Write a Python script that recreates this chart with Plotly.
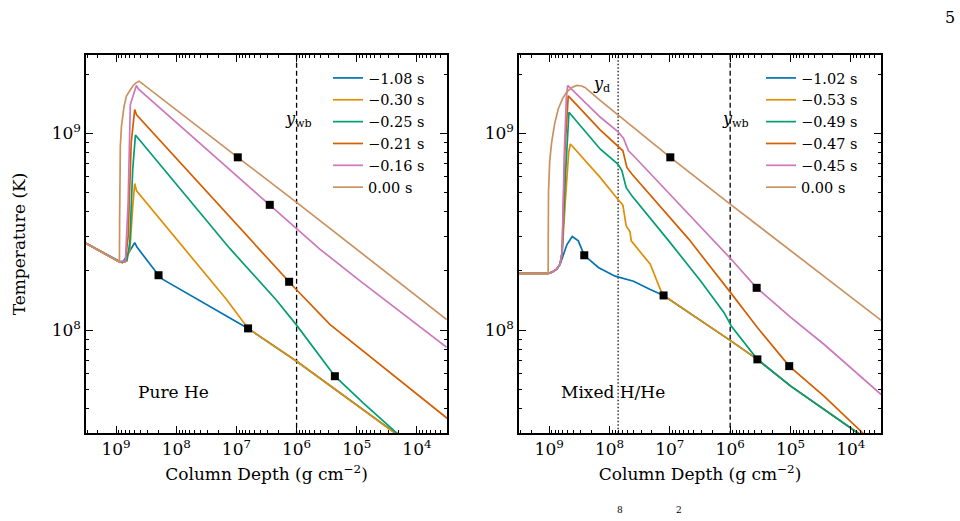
import plotly.graph_objects as go

# ---------------- data: left panel (Pure He) ----------------
L_labels = ["\u22121.08 s", "\u22120.30 s", "\u22120.25 s", "\u22120.21 s", "\u22120.16 s", "0.00 s"]

L_blue_x = [3.16e9, 8.8e8, 7.9e8, 7.0e8, 5.6e8, 4.9e8, 4.5e8, 1.97e8, 1.67e8, 2.77e7, 6.4e6, 1.0e6, 2.33e4, 1.58e4]
L_blue_y = [2.76e8, 2.22e8, 2.20e8, 2.32e8, 2.61e8, 2.78e8, 2.64e8, 1.90e8, 1.81e8, 1.32e8, 1.02e8, 6.95e7, 3.0e7, 2.76e7]

L_orange_x = [3.16e9, 8.8e8, 7.1e8, 5.9e8, 5.3e8, 4.9e8, 4.57e8, 2.77e7, 1.46e7, 6.4e6, 1.0e6, 2.33e4, 1.58e4]
L_orange_y = [2.76e8, 2.22e8, 2.22e8, 2.55e8, 4.2e8, 5.56e8, 5.1e8, 1.81e8, 1.43e8, 1.02e8, 6.95e7, 3.0e7, 2.76e7]

L_green_x = [3.16e9, 8.8e8, 6.6e8, 5.9e8, 5.3e8, 4.77e8, 1.29e7, 2.21e6, 1.0e6, 2.31e5, 7.83e4, 2.33e4, 1.5e4]
L_green_y = [2.76e8, 2.22e8, 2.25e8, 2.8e8, 6.5e8, 9.8e8, 2.6e8, 1.43e8, 1.06e8, 5.83e7, 4.27e7, 3.06e7, 2.75e7]

L_red_x = [3.16e9, 8.8e8, 7.0e8, 6.3e8, 5.6e8, 4.9e8, 4.57e8, 1.33e6, 1.14e6, 2.8e5, 7.83e4, 2.18e4, 3.2e3, 3.0e3]
L_red_y = [2.76e8, 2.22e8, 2.23e8, 3.0e8, 9.0e8, 1.32e9, 1.24e9, 1.76e8, 1.67e8, 1.07e8, 7.82e7, 5.73e7, 3.58e7, 3.55e7]

L_pink_x = [3.16e9, 8.8e8, 7.0e8, 6.3e8, 5.8e8, 4.6e8, 4.27e8, 2.79e6, 1.0e6, 4.11e5, 9.5e4, 3.2e3]
L_pink_y = [2.76e8, 2.22e8, 2.25e8, 4.5e8, 1.4e9, 1.75e9, 1.68e9, 4.33e8, 3.26e8, 2.58e8, 1.81e8, 8.18e7]

L_brown_x = [3.16e9, 8.8e8, 8.74e8, 8.68e8, 8.5e8, 8.13e8, 7.4e8, 6.71e8, 5.9e8, 5.21e8, 4.6e8, 4.15e8, 9.49e6, 1.0e6, 3.2e3]
L_brown_y = [2.76e8, 2.22e8, 3.5e8, 6.0e8, 8.6e8, 1.09e9, 1.36e9, 1.55e9, 1.66e9, 1.75e9, 1.81e9, 1.84e9, 7.55e8, 4.46e8, 1.13e8]

L_sq_x = [1.97e8, 6.4e6, 2.31e5, 1.33e6, 2.79e6, 9.49e6]
L_sq_y = [1.90e8, 1.02e8, 5.83e7, 1.76e8, 4.33e8, 7.55e8]

# ---------------- data: right panel (Mixed H/He) ----------------
R_labels = ["\u22121.02 s", "\u22120.53 s", "\u22120.49 s", "\u22120.47 s", "\u22120.45 s", "0.00 s"]

R_blue_x = [3.16e9, 1.04e9, 9.0e8, 7.5e8, 6.6e8, 5.85e8, 5.07e8, 4.14e8, 3.29e8, 2.62e8, 1.53e8, 8.07e7, 4.0e7, 2.11e7, 1.27e7, 9.6e5, 3.54e5, 9.9e4, 7.7e3, 6.0e3]
R_blue_y = [1.94e8, 1.94e8, 1.97e8, 2.04e8, 2.16e8, 2.40e8, 2.72e8, 2.99e8, 2.84e8, 2.40e8, 2.08e8, 1.88e8, 1.77e8, 1.61e8, 1.50e8, 8.79e7, 7.10e7, 5.19e7, 3.0e7, 2.85e7]

R_orange_x = [3.16e9, 1.04e9, 9.0e8, 7.5e8, 6.6e8, 6.1e8, 5.4e8, 4.75e8, 4.45e8, 1.43e8, 7.28e7, 6.0e7, 5.3e7, 4.57e7, 4.36e7, 2.11e7, 1.44e7, 1.35e7, 1.27e7, 9.6e5, 3.54e5, 9.9e4, 7.7e3, 6.0e3]
R_orange_y = [1.94e8, 1.94e8, 1.97e8, 2.04e8, 2.16e8, 2.45e8, 4.5e8, 8.0e8, 8.83e8, 5.97e8, 4.62e8, 4.31e8, 3.39e8, 3.16e8, 2.84e8, 2.16e8, 1.61e8, 1.55e8, 1.50e8, 8.79e7, 7.10e7, 5.19e7, 3.0e7, 2.85e7]

R_green_x = [3.16e9, 1.04e9, 9.0e8, 7.5e8, 6.6e8, 6.1e8, 5.4e8, 4.7e8, 1.43e8, 7.28e7, 6.24e7, 5.3e7, 4.26e7, 1.05e7, 3.11e6, 1.27e6, 1.09e6, 9.6e5, 3.54e5, 9.9e4, 7.7e3, 6.0e3]
R_green_y = [1.94e8, 1.94e8, 1.97e8, 2.04e8, 2.16e8, 2.45e8, 6.0e8, 1.28e9, 8.32e8, 6.98e8, 6.46e8, 5.31e8, 4.81e8, 2.85e8, 1.78e8, 1.23e8, 1.13e8, 1.05e8, 7.10e7, 5.19e7, 3.0e7, 2.85e7]

R_red_x = [3.16e9, 1.04e9, 9.0e8, 7.5e8, 6.6e8, 6.1e8, 5.5e8, 4.83e8, 1.43e8, 7.28e7, 6.0e7, 5.15e7, 4.26e7, 4.86e6, 1.12e6, 9.84e5, 3.54e5, 1.05e5, 2.76e4, 6.34e3, 5.0e3]
R_red_y = [1.94e8, 1.94e8, 1.97e8, 2.04e8, 2.16e8, 2.5e8, 8.0e8, 1.55e9, 1.04e9, 8.65e8, 8.15e8, 6.71e8, 6.21e8, 2.90e8, 1.61e8, 1.55e8, 1.03e8, 6.56e7, 4.61e7, 3.0e7, 2.75e7]

R_pink_x = [3.16e9, 1.04e9, 9.0e8, 7.5e8, 6.6e8, 6.1e8, 5.6e8, 5.2e8, 4.94e8, 1.43e8, 7.28e7, 5.87e7, 4.85e7, 4.0e7, 9.6e5, 3.64e5, 9.9e4, 2.76e4, 3.14e3]
R_pink_y = [1.94e8, 1.94e8, 1.97e8, 2.04e8, 2.16e8, 2.5e8, 8.0e8, 1.5e9, 1.75e9, 1.21e9, 1.02e9, 9.44e8, 8.15e8, 7.69e8, 2.29e8, 1.64e8, 1.16e8, 8.45e7, 4.7e7]

R_brown_x = [3.16e9, 1.04e9, 1.035e9, 1.025e9, 9.8e8, 9.1e8, 8.1e8, 7.08e8, 6.0e8, 5.13e8, 4.2e8, 3.5e8, 2.9e8, 2.55e8, 1.43e8, 9.82e6, 1.0e6, 3.14e3]
R_brown_y = [1.94e8, 1.94e8, 3.0e8, 5.0e8, 7.2e8, 9.0e8, 1.12e9, 1.33e9, 1.50e9, 1.62e9, 1.71e9, 1.75e9, 1.74e9, 1.71e9, 1.47e9, 7.55e8, 4.37e8, 1.12e8]

R_sq_x = [2.62e8, 1.27e7, 3.54e5, 1.05e5, 3.64e5, 9.82e6]
R_sq_y = [2.40e8, 1.50e8, 7.10e7, 6.56e7, 1.64e8, 7.55e8]

y_wb = 1.0e6
y_d = 7.2e7

x_ticks = [1e9, 1e8, 1e7, 1e6, 1e5, 1e4]
x_ticktext = ["10<sup>9</sup>", "10<sup>8</sup>", "10<sup>7</sup>", "10<sup>6</sup>", "10<sup>5</sup>", "10<sup>4</sup>"]
y_ticks = [1e8, 1e9]
y_ticktext = ["10<sup>8</sup>", "10<sup>9</sup>"]

colors = ["#0173B2", "#DE8F05", "#029E73", "#D55E00", "#CC78BC", "#CA9161"]
FONT = "DejaVu Serif"

x_minor = [m * 10 ** e for e in range(3, 10) for m in range(2, 10) if 3e3 <= m * 10 ** e <= 3.2e9]
y_minor = [m * 10 ** e for e in range(7, 10) for m in range(2, 10) if 3e7 <= m * 10 ** e <= 2.5e9]

fig = go.Figure()

L_series = [(L_blue_x, L_blue_y), (L_orange_x, L_orange_y), (L_green_x, L_green_y),
            (L_red_x, L_red_y), (L_pink_x, L_pink_y), (L_brown_x, L_brown_y)]
R_series = [(R_blue_x, R_blue_y), (R_orange_x, R_orange_y), (R_green_x, R_green_y),
            (R_red_x, R_red_y), (R_pink_x, R_pink_y), (R_brown_x, R_brown_y)]

# vertical reference lines (drawn first, under curves)
fig.add_trace(go.Scatter(x=[y_wb, y_wb], y=[2e7, 4e9], mode="lines", xaxis="x", yaxis="y",
                         line=dict(color="black", width=1.3, dash="5px,3px"), showlegend=False, hoverinfo="skip"))
fig.add_trace(go.Scatter(x=[y_wb, y_wb], y=[2e7, 4e9], mode="lines", xaxis="x2", yaxis="y2",
                         line=dict(color="black", width=1.3, dash="5px,3px"), showlegend=False, hoverinfo="skip"))
fig.add_trace(go.Scatter(x=[y_d, y_d], y=[2e7, 4e9], mode="lines", xaxis="x2", yaxis="y2",
                         line=dict(color="black", width=1.2, dash="1.5px,2px"), showlegend=False, hoverinfo="skip"))

for (xs, ys), c, lab in zip(L_series, colors, L_labels):
    fig.add_trace(go.Scatter(x=xs, y=ys, mode="lines", name=lab, xaxis="x", yaxis="y",
                             line=dict(color=c, width=1.7), legend="legend"))
fig.add_trace(go.Scatter(x=L_sq_x, y=L_sq_y, mode="markers", xaxis="x", yaxis="y", showlegend=False,
                         marker=dict(symbol="square", size=8, color="black")))

for (xs, ys), c, lab in zip(R_series, colors, R_labels):
    fig.add_trace(go.Scatter(x=xs, y=ys, mode="lines", name=lab, xaxis="x2", yaxis="y2",
                             line=dict(color=c, width=1.7), legend="legend2"))
fig.add_trace(go.Scatter(x=R_sq_x, y=R_sq_y, mode="markers", xaxis="x2", yaxis="y2", showlegend=False,
                         marker=dict(symbol="square", size=8, color="black")))

W, H = 960, 521
ydom = [1 - 433 / H, 1 - 55 / H]

def xaxis(dom, anchor):
    return dict(domain=dom, anchor=anchor, type="log", range=[9.5, 3.5],
                showline=True, linecolor="black", linewidth=1.5, mirror="ticks",
                ticks="inside", ticklen=7, tickwidth=1, tickcolor="black",
                tickmode="array", tickvals=x_ticks, ticktext=x_ticktext,
                minor=dict(tickmode="array", tickvals=x_minor, ticks="inside", ticklen=3.5,
                           tickwidth=1, tickcolor="black", showgrid=False),
                showgrid=False, zeroline=False,
                tickfont=dict(family=FONT, size=17, color="black"),
                title=dict(text="Column Depth (g cm<sup>\u22122</sup>)",
                           font=dict(family=FONT, size=17, color="black"), standoff=10))

def yaxis(anchor, title):
    d = dict(domain=ydom, anchor=anchor, type="log", range=[7.4771, 9.3979],
             showline=True, linecolor="black", linewidth=1.5, mirror="ticks",
             ticks="inside", ticklen=7, tickwidth=1, tickcolor="black",
             tickmode="array", tickvals=y_ticks, ticktext=y_ticktext,
             minor=dict(tickmode="array", tickvals=y_minor, ticks="inside", ticklen=3.5,
                        tickwidth=1, tickcolor="black", showgrid=False),
             showgrid=False, zeroline=False,
             tickfont=dict(family=FONT, size=17, color="black"))
    if title:
        d["title"] = dict(text=title, font=dict(family=FONT, size=17, color="black"), standoff=22)
    return d

legend_common = dict(bgcolor="rgba(0,0,0,0)", borderwidth=0,
                     font=dict(family=FONT, size=14.5, color="black"),
                     xanchor="left", yanchor="top", tracegroupgap=0, itemwidth=30)

def note(text, px, py, size=17):
    return dict(text=text, x=px / W, y=1 - py / H, xref="paper", yref="paper",
                xanchor="center", yanchor="middle", showarrow=False,
                font=dict(family=FONT, size=size, color="black"))

fig.update_layout(
    width=W, height=H, margin=dict(l=0, r=0, t=0, b=0),
    paper_bgcolor="white", plot_bgcolor="white",
    xaxis=xaxis([86 / W, 447 / W], "y"),
    yaxis=yaxis("x", "Temperature (K)"),
    xaxis2=xaxis([519 / W, 881 / W], "y2"),
    yaxis2=yaxis("x2", None),
    legend=dict(x=328 / W, y=1 - 62 / H, **legend_common),
    legend2=dict(x=761 / W, y=1 - 62 / H, **legend_common),
    showlegend=True,
    annotations=[
        note("Pure He", 173.5, 391.7),
        note("Mixed H/He", 612.5, 391.7),
        note("<i>y</i><sub>wb</sub>", 298, 120, 16),
        note("<i>y</i><sub>wb</sub>", 735.5, 120, 16),
        note("<i>y</i><sub>d</sub>", 601, 84, 16),
        note("5", 950, 18, 16),
        note("8", 620, 510, 9),
        note("2", 679, 510, 9),
    ],
)

fig.write_html("out.html")
